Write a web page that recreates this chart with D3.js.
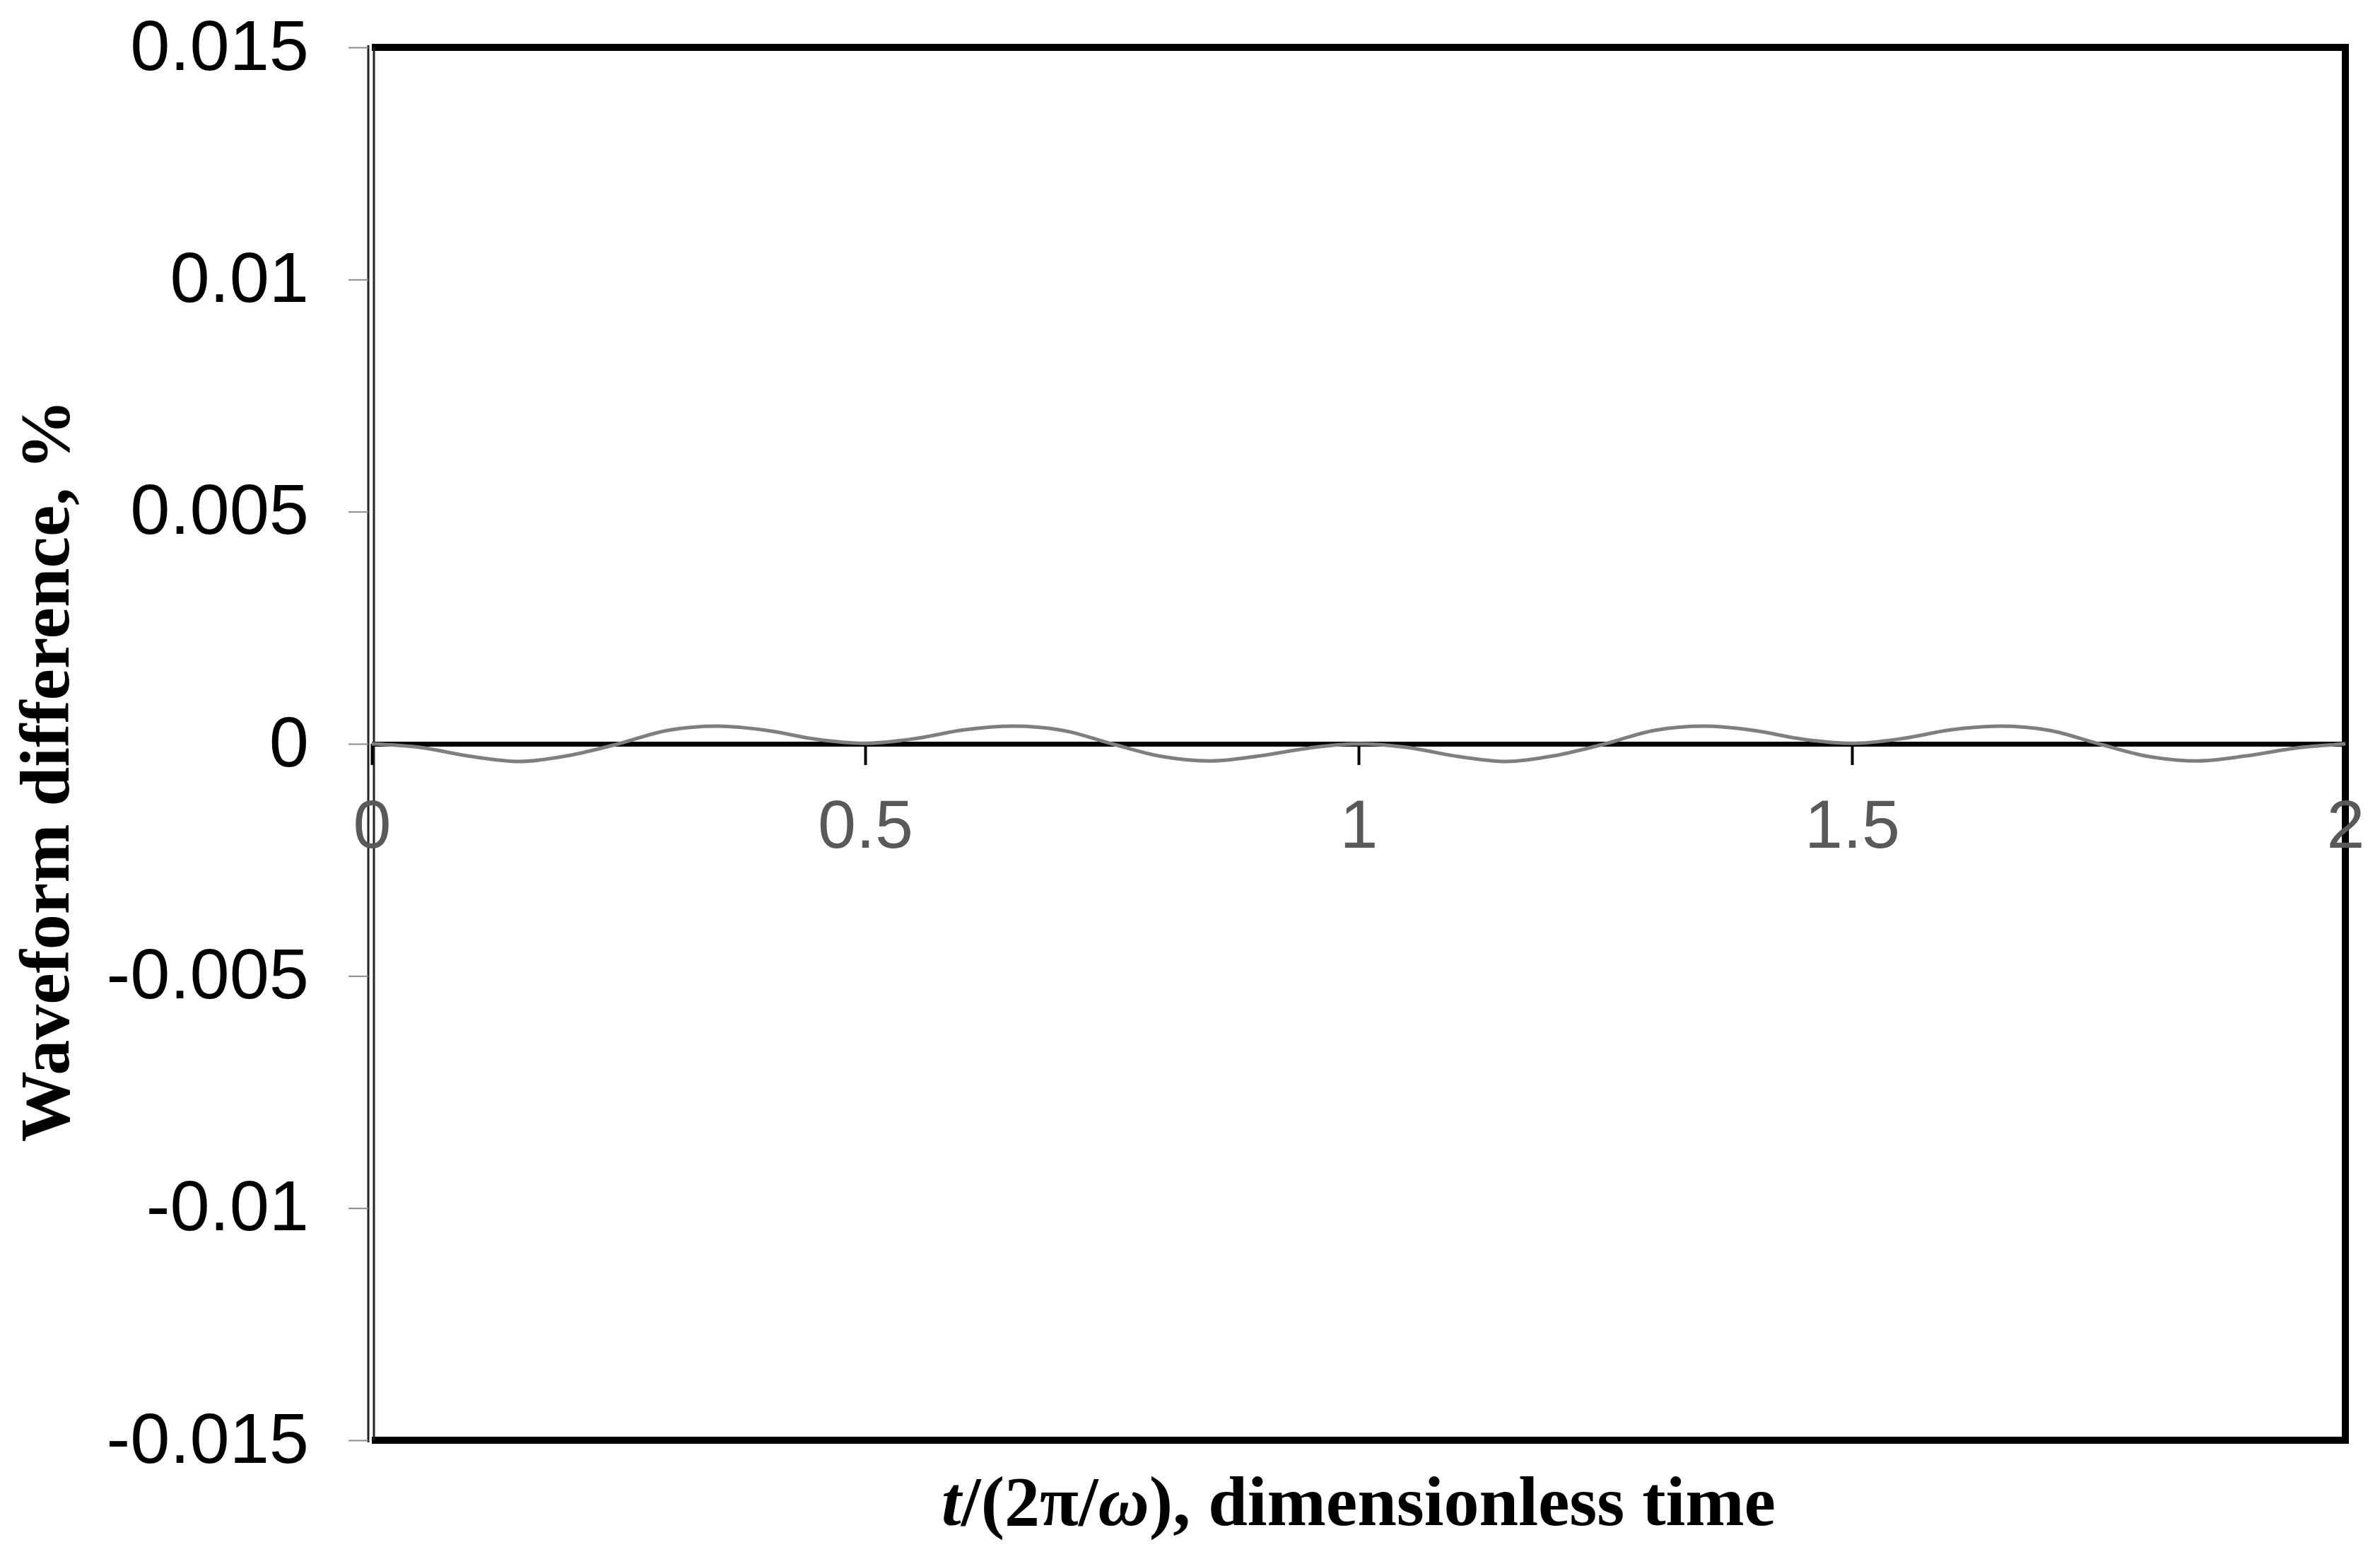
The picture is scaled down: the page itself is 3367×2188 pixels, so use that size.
<!DOCTYPE html>
<html>
<head>
<meta charset="utf-8">
<script src="https://cdn.jsdelivr.net/npm/d3@7"></script>
<style>
  body { margin: 0; background: #fff; }
</style>
</head>
<body>
<script>
// values
const tValues = [0, 0.05, 0.1, 0.15, 0.2, 0.25, 0.3, 0.35, 0.4, 0.45, 0.5, 0.55, 0.6, 0.65, 0.7, 0.75, 0.8, 0.85, 0.9, 0.95,
    1, 1.05, 1.1, 1.15, 1.2, 1.25, 1.3, 1.35, 1.4, 1.45, 1.5, 1.55, 1.6, 1.65, 1.7, 1.75, 1.8, 1.85, 1.9, 1.95, 2]
const diffValues = [0, -0.00008, -0.00027, -0.00038, -0.00025, 0, 0.00029, 0.00038, 0.00029, 0.0001, 0.00001, 0.00011, 0.0003, 0.00038, 0.00029, 0, -0.00027, -0.00037, -0.00026, -0.00009,
    0, -0.00008, -0.00027, -0.00038, -0.00025, 0, 0.00029, 0.00038, 0.00029, 0.0001, 0.00001, 0.00011, 0.0003, 0.00038, 0.00029, 0, -0.00027, -0.00037, -0.00026, -0.00009, 0]
const xTicks = [0, 0.5, 1, 1.5, 2]
const xTickLabels = ['0', '0.5', '1', '1.5', '2']
const yTicks = [0.015, 0.01, 0.005, 0, -0.005, -0.01, -0.015]
const yTickLabels = ['0.015', '0.01', '0.005', '0', '-0.005', '-0.01', '-0.015']

const width = 3367
const height = 2188
const plotLeft = 526, plotRight = 3318, plotTop = 67, plotBottom = 2037

const svg = d3.select('body').append('svg').attr('width', width).attr('height', height)

const xScale = d3.scaleLinear().domain([0, 2]).range([plotLeft, plotRight])
const yScale = d3.scaleLinear().domain([-0.015, 0.015]).range([plotBottom, plotTop])

// frame: thick top/right/bottom, hollow double line on the left
svg.append('path')
    .attr('d', `M${plotLeft},${plotTop}H${plotRight}V${plotBottom}H${plotLeft}`)
    .attr('fill', 'none').attr('stroke', '#000').attr('stroke-width', 10)
svg.append('line').attr('x1', plotLeft - 5).attr('x2', plotLeft - 5).attr('y1', plotTop - 3).attr('y2', plotBottom + 3)
    .attr('stroke', '#222').attr('stroke-width', 3)
svg.append('line').attr('x1', plotLeft + 3).attr('x2', plotLeft + 3).attr('y1', plotTop).attr('y2', plotBottom)
    .attr('stroke', '#222').attr('stroke-width', 3)

// y axis
const yAxis = d3.axisLeft(yScale).tickValues(yTicks).tickSize(28).tickSizeOuter(0).tickPadding(56)
    .tickFormat((d, i) => yTickLabels[i])
const yG = svg.append('g').attr('transform', `translate(${plotLeft - 5},0)`).call(yAxis)
yG.select('.domain').remove()
yG.selectAll('.tick line').attr('stroke', '#8c8c8c').attr('stroke-width', 2)
yG.selectAll('.tick text').attr('font-family', '"Liberation Sans", Arial, sans-serif')
    .attr('font-size', 101).attr('fill', '#000').attr('dy', '0.31em')

// x axis through zero
const xAxis = d3.axisBottom(xScale).tickValues(xTicks).tickSize(30).tickSizeOuter(0).tickPadding(48)
    .tickFormat((d, i) => xTickLabels[i])
const xG = svg.append('g').attr('transform', `translate(0,${yScale(0)})`).call(xAxis)
xG.select('.domain').attr('stroke', '#000').attr('stroke-width', 7)
xG.selectAll('.tick line').attr('stroke', '#000').attr('stroke-width', 4)
xG.selectAll('.tick text').attr('font-family', '"Liberation Sans", Arial, sans-serif')
    .attr('font-size', 97).attr('fill', '#595959')

// curve
const pts = tValues.map((t, i) => [t, diffValues[i]])
const line = d3.line().x(d => xScale(d[0])).y(d => yScale(d[1])).curve(d3.curveMonotoneX)
svg.append('path').datum(pts).attr('d', line)
    .attr('fill', 'none').attr('stroke', '#7f7f7f').attr('stroke-width', 5)

// axis titles
const xTitle = svg.append('text').attr('x', (plotLeft + plotRight) / 2).attr('y', 2157)
    .attr('text-anchor', 'middle').attr('font-family', '"Liberation Serif", "Times New Roman", serif')
    .attr('font-weight', 'bold').attr('font-size', 100).attr('fill', '#000')
xTitle.append('tspan').attr('font-style', 'italic').text('t')
xTitle.append('tspan').text('/(2π/')
xTitle.append('tspan').attr('font-style', 'italic').text('ω')
xTitle.append('tspan').text('), dimensionless time')

svg.append('text').attr('transform', 'translate(97,1090) rotate(-90)')
    .attr('text-anchor', 'middle').attr('font-family', '"Liberation Serif", "Times New Roman", serif')
    .attr('font-weight', 'bold').attr('font-size', 100).attr('fill', '#000')
    .text('Waveform difference, %')
</script>
</body>
</html>
